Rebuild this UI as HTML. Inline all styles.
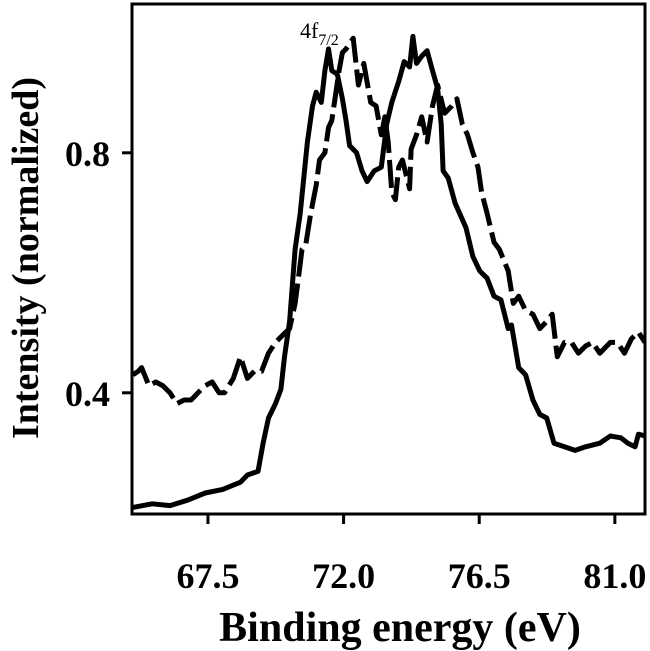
<!DOCTYPE html>
<html><head><meta charset="utf-8"><style>
html,body{margin:0;padding:0;background:#fff;}
svg{display:block;font-family:"Liberation Serif",serif;}
</style></head><body>
<svg id="chart" width="650" height="651">
<g id="plot"></g>
<rect x="132" y="4" width="513" height="510" fill="none" stroke="#000" stroke-width="3"/>
<text x="300" y="38" font-size="22">4f<tspan font-size="16" dy="7">7/2</tspan></text>
<text transform="translate(38,258) rotate(-90)" text-anchor="middle" font-size="38" font-weight="bold">Intensity (normalized)</text>
<text x="400" y="641" text-anchor="middle" font-size="42" font-weight="bold">Binding energy (eV)</text>
</svg>
<script>
const xTicks=[67.5,72.0,76.5,81.0];
const xTickLabels=["67.5","72.0","76.5","81.0"];
const yTicks=[0.4,0.8];
const yTickLabels=["0.4","0.8"];
const solidX=[65.01,65.65,66.24,66.82,67.41,67.99,68.58,68.81,69.16,69.33,69.51,69.74,69.92,70.04,70.21,70.39,70.56,70.80,70.97,71.09,71.26,71.38,71.50,71.61,71.79,71.96,72.08,72.20,72.43,72.61,72.78,73.02,73.25,73.43,73.60,73.83,74.01,74.19,74.30,74.42,74.59,74.77,74.95,75.12,75.24,75.30,75.47,75.70,76.06,76.29,76.52,76.76,76.99,77.22,77.46,77.57,77.81,78.04,78.28,78.51,78.74,78.98,79.33,79.68,80.03,80.50,80.85,81.20,81.43,81.67,81.78,82.0];
const solidY=[0.209,0.215,0.212,0.221,0.233,0.239,0.251,0.263,0.269,0.316,0.358,0.382,0.406,0.460,0.519,0.639,0.699,0.818,0.878,0.901,0.884,0.937,0.973,0.937,0.931,0.890,0.854,0.812,0.800,0.770,0.752,0.770,0.776,0.848,0.884,0.919,0.952,0.943,0.994,0.949,0.961,0.970,0.937,0.907,0.848,0.770,0.758,0.716,0.675,0.627,0.603,0.591,0.561,0.555,0.507,0.513,0.442,0.430,0.388,0.364,0.358,0.316,0.310,0.304,0.310,0.316,0.328,0.325,0.316,0.310,0.331,0.328];
const dashX=[65.01,65.19,65.30,65.54,65.77,66.00,66.24,66.47,66.71,66.94,67.17,67.41,67.64,67.87,68.05,68.34,68.58,68.81,69.04,69.28,69.51,69.74,69.98,70.21,70.39,70.50,70.62,70.74,70.91,71.09,71.20,71.38,71.50,71.61,71.73,71.85,71.96,72.08,72.32,72.49,72.67,72.90,73.08,73.25,73.37,73.48,73.60,73.72,73.83,73.95,74.19,74.24,74.42,74.59,74.77,74.95,75.12,75.35,75.59,75.76,75.94,76.11,76.29,76.46,76.58,76.76,76.99,77.17,77.46,77.63,77.81,78.04,78.28,78.51,78.74,78.92,79.09,79.33,79.56,79.79,80.03,80.26,80.50,80.85,81.08,81.32,81.55,81.78,82.0];
const dashY=[0.430,0.436,0.442,0.412,0.418,0.412,0.400,0.382,0.388,0.388,0.400,0.412,0.418,0.400,0.400,0.424,0.460,0.424,0.436,0.436,0.466,0.484,0.496,0.507,0.549,0.591,0.639,0.645,0.699,0.746,0.788,0.800,0.842,0.854,0.896,0.937,0.967,0.973,0.991,0.913,0.949,0.884,0.878,0.830,0.860,0.818,0.734,0.722,0.776,0.788,0.740,0.806,0.830,0.860,0.818,0.878,0.913,0.866,0.878,0.890,0.848,0.830,0.800,0.776,0.734,0.699,0.651,0.639,0.603,0.549,0.561,0.537,0.531,0.507,0.519,0.531,0.460,0.484,0.484,0.466,0.478,0.484,0.466,0.484,0.484,0.466,0.490,0.501,0.484];

const NS="http://www.w3.org/2000/svg";
const L=132,R=645,T=4,B=514;
const xMin=64.98,xMax=82.0,yMin=0.198,yMax=1.048;
function sx(v){return L+(v-xMin)/(xMax-xMin)*(R-L);}
function sy(v){return B-(v-yMin)/(yMax-yMin)*(B-T);}
const svg=document.getElementById('chart');
const plot=document.getElementById('plot');
function mk(tag,attrs,parent){const e=document.createElementNS(NS,tag);for(const k in attrs)e.setAttribute(k,attrs[k]);(parent||svg).appendChild(e);return e;}

xTicks.forEach((v,i)=>{
  const t=mk('line',{x1:sx(v),x2:sx(v),y1:B,y2:B+10,stroke:'#000','stroke-width':3});
  
  
  const l=mk('text',{x:sx(v),y:588,'text-anchor':'middle','font-size':36,'font-weight':'bold'});
  l.textContent=xTickLabels[i];
  
  
});
yTicks.forEach((v,i)=>{
  const t=mk('line',{x1:L-10,x2:L,y1:sy(v),y2:sy(v),stroke:'#000','stroke-width':3});
  
  
  const l=mk('text',{x:110,y:sy(v)+13,'text-anchor':'end','font-size':36,'font-weight':'bold'});
  l.textContent=yTickLabels[i];
  
  
});
function path(xs,ys){return xs.map((x,i)=>(i?'L':'M')+sx(x).toFixed(1)+','+sy(ys[i]).toFixed(1)).join('');}
const cp=mk('clipPath',{id:'clip'});
mk('rect',{x:L,y:T,width:R-L,height:B-T},cp);
const s=mk('path',{d:path(solidX,solidY),fill:'none',stroke:'#000','stroke-width':5,'stroke-linejoin':'round','stroke-linecap':'round','clip-path':'url(#clip)'},plot);


const d=mk('path',{d:path(dashX,dashY),fill:'none',stroke:'#000','stroke-width':5,'stroke-dasharray':'28 7','stroke-linejoin':'round','clip-path':'url(#clip)'},plot);


</script>
</body></html>
